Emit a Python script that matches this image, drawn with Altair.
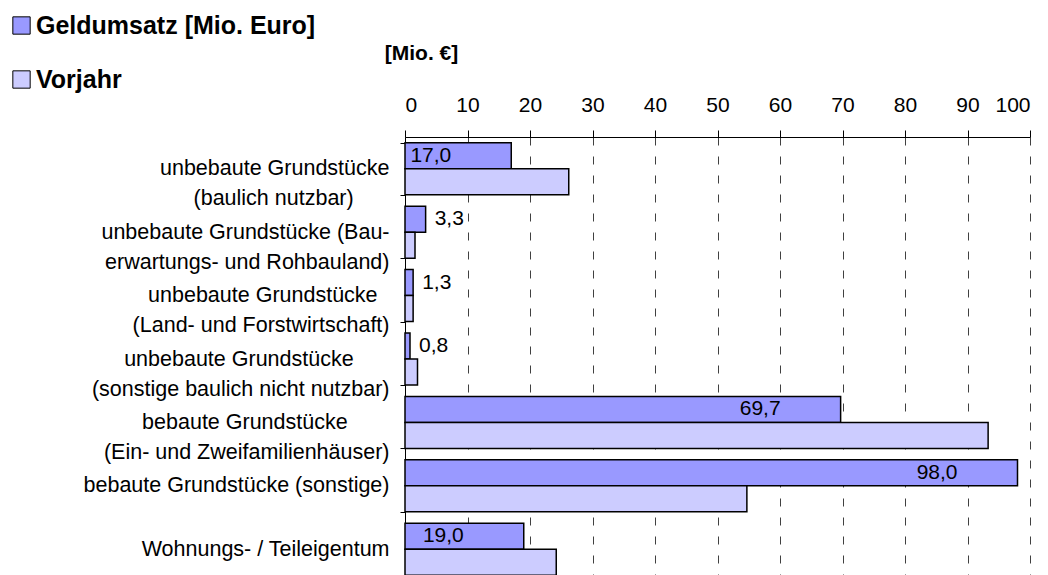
import altair as alt
import pandas as pd

# ---- data ----
categories = [
    "unbebaute Grundstücke\n(baulich nutzbar)",
    "unbebaute Grundstücke (Bau-\nerwartungs- und Rohbauland)",
    "unbebaute Grundstücke\n(Land- und Forstwirtschaft)",
    "unbebaute Grundstücke\n(sonstige baulich nicht nutzbar)",
    "bebaute Grundstücke\n(Ein- und Zweifamilienhäuser)",
    "bebaute Grundstücke (sonstige)",
    "Wohnungs- / Teileigentum",
]
geldumsatz = [17.0, 3.3, 1.3, 0.8, 69.7, 98.0, 19.0]
vorjahr = [26.2, 1.6, 1.3, 2.0, 93.3, 54.7, 24.2]
series_names = ["Geldumsatz [Mio. Euro]", "Vorjahr"]
series_colors = ["#9999FF", "#CCCCFF"]
x_ticks = list(range(0, 101, 10))

FONT = "Liberation Sans"
NBSP = "\u00a0"
ZWSP = "\u200b"  # keeps the trailing padding from being trimmed

# approximate Arial/Liberation Sans advance widths (1/1000 em) to centre two-line labels
_W = {c: 556 for c in "abdeghnopqußäöü0123456789"}
_W.update({"c": 500, "k": 500, "s": 500, "v": 500, "x": 500, "y": 500, "z": 500,
           "f": 278, "t": 278, "i": 222, "j": 222, "l": 222, "m": 833, "r": 333,
           "w": 722, " ": 278, NBSP: 278, "(": 333, ")": 333, "-": 333, "/": 278,
           "G": 778, "B": 667, "R": 722, "L": 556, "F": 611, "E": 667, "Z": 611,
           "W": 944, "T": 611})


def text_w(s):
    return sum(_W.get(ch, 556) for ch in s)


def centred(label):
    lines = label.split("\n")
    if len(lines) < 2:
        return label
    widest = max(text_w(l) for l in lines)
    out = []
    for l in lines:
        n = int(round((widest - text_w(l)) / 2 / _W[NBSP]))
        out.append(l + (NBSP * n + ZWSP if n > 0 else ""))
    return "\n".join(out)


rows = []
for i, cat in enumerate(categories):
    for s, vals in zip(series_names, (geldumsatz, vorjahr)):
        rows.append({
            "cat": centred(cat),
            "series": s,
            "value": vals[i],
            "label": f"{vals[i]:.1f}".replace(".", ","),
        })
df = pd.DataFrame(rows)
cat_order = [centred(c) for c in categories]

y_enc = alt.Y(
    "cat:N",
    sort=cat_order,
    scale=alt.Scale(paddingInner=0.18, paddingOuter=0.09),
    axis=alt.Axis(
        title=None,
        labelExpr="split(datum.label, '\\n')",
        labelFont=FONT,
        labelFontSize=21.5,
        labelColor="black",
        labelLineHeight=30,
        labelPadding=11,
        labelLimit=0,
        labelAlign="right",
        labelBaseline="middle",
        tickBand="extent",
        tickSize=5,
        tickColor="black",
        domainColor="black",
        grid=False,
    ),
)
yoff_enc = alt.YOffset("series:N", sort=series_names,
                       scale=alt.Scale(paddingInner=0, paddingOuter=0))

x_enc = alt.X(
    "value:Q",
    scale=alt.Scale(domain=[0, 100], nice=False),
    axis=alt.Axis(
        orient="top",
        values=x_ticks,
        format="d",
        labelFont=FONT,
        labelFontSize=21,
        labelColor="black",
        labelPadding=15,
        tickSize=7,
        tickColor="black",
        domainColor="black",
        grid=True,
        gridDash=[8, 11],
        gridColor="#404040",
        gridWidth=1,
        title="[Mio. €]",
        titleFont=FONT,
        titleFontSize=21,
        titleFontWeight="bold",
        titleColor="black",
        titleX=16,
        titleY=-84,
        titleAlign="center",
        titleBaseline="middle",
        titleAngle=0,
    ),
)

bars = alt.Chart(df).mark_bar(stroke="black", strokeWidth=1.5).encode(
    x=x_enc,
    y=y_enc,
    yOffset=yoff_enc,
    color=alt.Color(
        "series:N",
        sort=series_names,
        scale=alt.Scale(domain=series_names, range=series_colors),
        legend=alt.Legend(
            title=None,
            orient="none",
            legendX=-396,
            legendY=-124,
            direction="vertical",
            symbolType="square",
            symbolSize=300,
            symbolStrokeColor="black",
            symbolStrokeWidth=1,
            symbolOpacity=1,
            labelFont=FONT,
            labelFontSize=25,
            labelFontWeight="bold",
            labelColor="black",
            labelOffset=2,
            rowPadding=28,
            padding=0,
            labelLimit=0,
        ),
    ),
)

geld = alt.datum.series == series_names[0]

labels_out = alt.Chart(df).transform_filter(geld & (alt.datum.value < 10)).mark_text(
    align="left", baseline="middle", dx=9, font=FONT, fontSize=21, color="black"
).encode(x="value:Q", y=alt.Y("cat:N", sort=cat_order), yOffset=yoff_enc, text="label:N")

labels_in = alt.Chart(df).transform_filter(geld & (alt.datum.value >= 10)).mark_text(
    align="right", baseline="middle", dx=-60, font=FONT, fontSize=21, color="black"
).encode(x="value:Q", y=alt.Y("cat:N", sort=cat_order), yOffset=yoff_enc, text="label:N")

chart = (
    alt.layer(bars, labels_out, labels_in)
    .properties(
        width=625,
        height=444,
        autosize=alt.AutoSizeParams(type="none"),
        padding={"left": 397, "top": 129, "right": 10, "bottom": 5},
    )
    .configure_view(stroke=None)
)

chart.save("out.html", embed_options={"renderer": "svg", "actions": False})
